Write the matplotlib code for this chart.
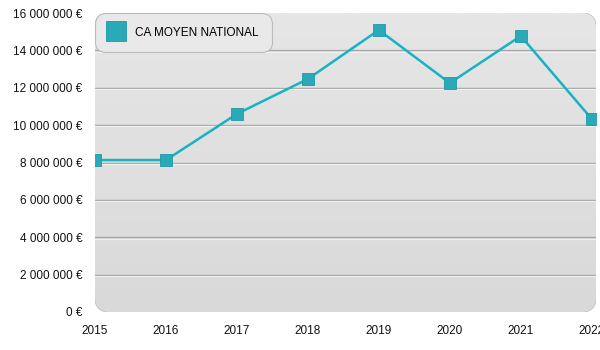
import matplotlib.pyplot as plt
import numpy as np
from matplotlib.patches import FancyBboxPatch
from matplotlib.lines import Line2D

plt.rcParams['font.family'] = ['Liberation Sans', 'DejaVu Sans']

years = [2015, 2016, 2017, 2018, 2019, 2020, 2021, 2022]
ca_moyen = [8.13e6, 8.13e6, 10.6e6, 12.47e6, 15.09e6, 12.25e6, 14.77e6, 10.33e6]
yticks = [0, 2e6, 4e6, 6e6, 8e6, 10e6, 12e6, 14e6, 16e6]
line_color = '#17b3c4'
marker_color = '#2aaab8'


def fmt_eur(v):
    return '{:,.0f} €'.format(v).replace(',', ' ')


fig = plt.figure(figsize=(6, 3.5), dpi=100)
ax = fig.add_axes([95 / 600, 1 - 312 / 350, 501 / 600, 299 / 350])
ax.set_xlim(2015, 2022.06)
ax.set_ylim(0, 16e6)

# rounded gradient background
bg = FancyBboxPatch((0, 0), 1, 1, boxstyle='round,pad=0,rounding_size=0.03',
                    transform=ax.transAxes, facecolor='none', edgecolor='#bdbdbd',
                    lw=1.0, zorder=0, mutation_aspect=501 / 299)
ax.add_patch(bg)
grad = np.linspace(0, 1, 256).reshape(-1, 1)
im = ax.imshow(grad, extent=[0, 1, 0, 1], transform=ax.transAxes, aspect='auto',
               cmap=plt.matplotlib.colors.LinearSegmentedColormap.from_list(
                   'bg', ['#e6e6e6', '#d9d9d9']), origin='upper', zorder=0)
im.set_clip_path(bg)
for sp in ax.spines.values():
    sp.set_visible(False)
ax.set_facecolor('none')

# grid lines
for v in yticks[1:-1]:
    ax.axhline(v, color='#a8a8a8', lw=1.0, zorder=1)
    ax.axhline(v - 0.07e6, color='#f2f2f2', lw=0.8, zorder=1)

ax.plot(years, ca_moyen, color=line_color, lw=1.8, zorder=3, clip_on=True)
ax.plot(years, ca_moyen, ls='none', marker='s', ms=8, mfc=marker_color,
        mec='#1e9aa8', mew=0.6, zorder=4, clip_on=True)

ax.set_yticks(yticks)
ax.set_yticklabels([fmt_eur(v) for v in yticks])
ax.set_xticks(years)
ax.set_xticklabels([str(y) for y in years])
ax.tick_params(length=0, labelsize=8.5, colors='#111111')
ax.tick_params(axis='y', pad=9)
ax.tick_params(axis='x', pad=9)

# legend
handle = Line2D([], [], ls='none', marker='s', ms=14, mfc=marker_color,
                mec='#1e9aa8', mew=0.6)
leg = ax.legend([handle], ['CA MOYEN NATIONAL'], loc='upper left',
                bbox_to_anchor=(0.0, 1.0), frameon=True, fontsize=8.5,
                fancybox=True, borderpad=1.15, handletextpad=0.9,
                handlelength=1.3, borderaxespad=0)
frame = leg.get_frame()
frame.set_facecolor('#e9e9e9')
frame.set_edgecolor('#bcbcbc')
frame.set_alpha(1)
frame.set_linewidth(0.8)
frame.set_boxstyle('round,pad=0,rounding_size=0.9')

fig.savefig('out.png', dpi=100)
